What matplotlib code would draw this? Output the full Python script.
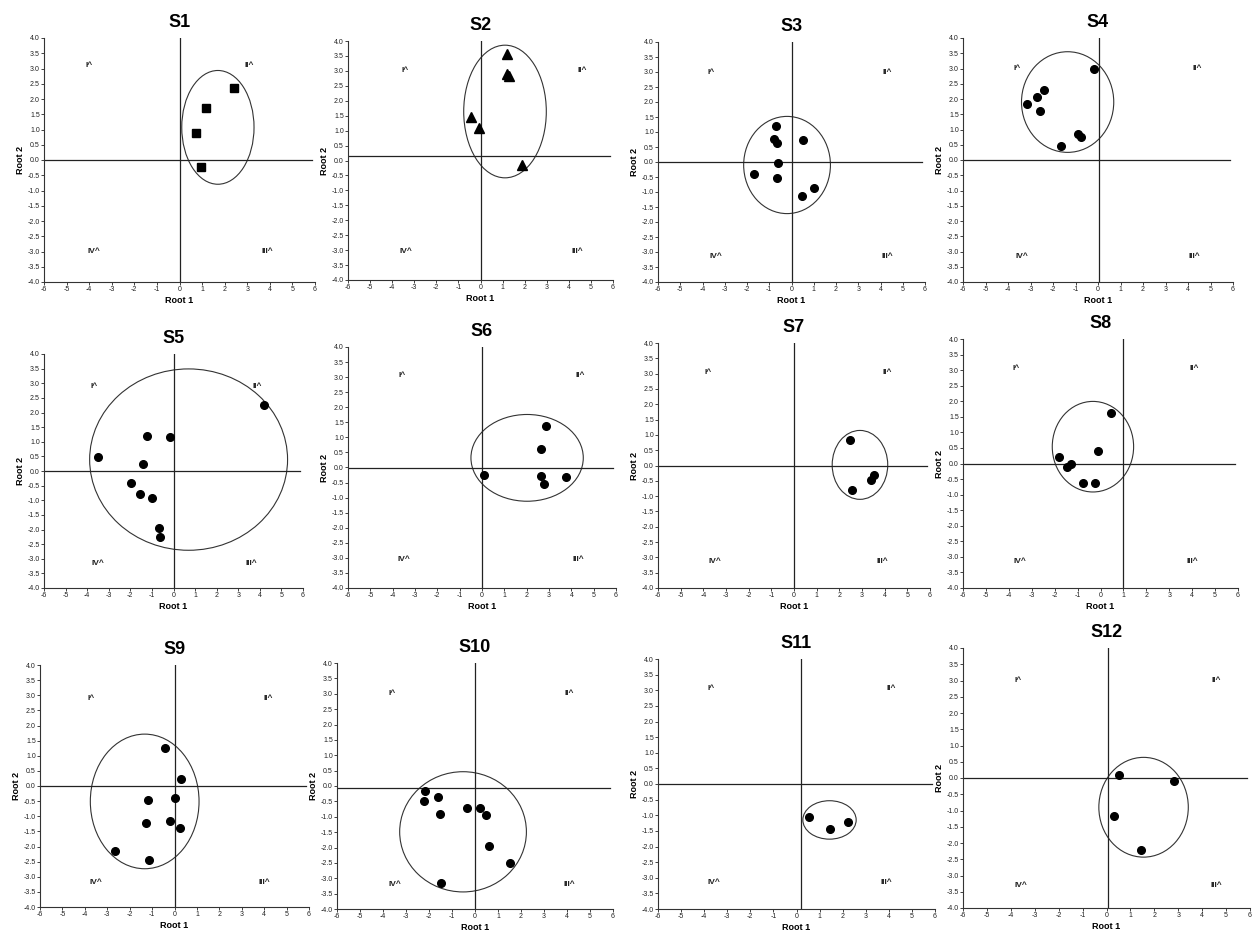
import matplotlib
matplotlib.use("Agg")
import matplotlib.pyplot as plt
from matplotlib.patches import Ellipse
import numpy as np

plt.rcParams['font.family'] = ['Liberation Sans', 'DejaVu Sans']

titles = ["S1", "S2", "S3", "S4", "S5", "S6", "S7", "S8", "S9", "S10", "S11", "S12"]

s1_x = [0.74, 1.18, 2.41, 0.93]
s1_y = [0.88, 1.70, 2.36, -0.22]
s2_x = [1.22, 1.20, 1.28, -0.42, -0.08, 1.88]
s2_y = [3.58, 2.90, 2.82, 1.44, 1.09, -0.14]
s3_x = [-0.68, -0.78, -0.63, 0.53, -0.60, -1.70, -0.63, 1.02, 0.45]
s3_y = [1.20, 0.76, 0.65, 0.74, -0.04, -0.41, -0.52, -0.88, -1.12]
s4_x = [-0.18, -2.41, -2.69, -3.15, -2.58, -0.88, -0.77, -1.66]
s4_y = [2.98, 2.30, 2.05, 1.83, 1.61, 0.85, 0.77, 0.47]
s5_x = [4.17, -1.25, -0.16, -3.52, -1.43, -1.99, -1.56, -1.01, -0.66, -0.63]
s5_y = [2.24, 1.18, 1.15, 0.49, 0.23, -0.42, -0.77, -0.94, -1.94, -2.25]
s6_x = [2.88, 2.63, 0.10, 2.63, 3.75, 2.78]
s6_y = [1.37, 0.62, -0.24, -0.27, -0.32, -0.54]
s7_x = [2.48, 2.58, 3.54, 3.39]
s7_y = [0.82, -0.79, -0.30, -0.47]
s8_x = [0.44, -0.11, -1.83, -1.45, -1.27, -0.76, -0.25]
s8_y = [1.62, 0.41, 0.21, -0.10, -0.02, -0.64, -0.64]
s9_x = [-0.41, 0.30, 0.00, -1.20, -1.27, -0.22, 0.25, -2.64, -1.13]
s9_y = [1.27, 0.24, -0.39, -0.45, -1.21, -1.17, -1.38, -2.15, -2.43]
s10_x = [-2.16, -2.23, -1.62, -1.51, -0.33, 0.20, 0.48, 0.59, 1.51, -1.48]
s10_y = [-0.16, -0.48, -0.37, -0.92, -0.72, -0.70, -0.94, -1.94, -2.49, -3.16]
s11_x = [0.56, 1.46, 2.25]
s11_y = [-1.06, -1.43, -1.23]
s12_x = [0.52, 2.82, 0.32, 1.44]
s12_y = [0.10, -0.10, -1.18, -2.20]

xs = [s1_x, s2_x, s3_x, s4_x, s5_x, s6_x, s7_x, s8_x, s9_x, s10_x, s11_x, s12_x]
ys = [s1_y, s2_y, s3_y, s4_y, s5_y, s6_y, s7_y, s8_y, s9_y, s10_y, s11_y, s12_y]

# ellipse centres and sizes (Root 1, Root 2 units)
ell_cx = [1.70, 1.11, -0.20, -1.35, 0.70, 2.02, 2.91, -0.33, -1.33, -0.52, 1.43, 1.55]
ell_cy = [1.07, 1.64, -0.10, 1.90, 0.39, 0.32, 0.02, 0.54, -0.51, -1.49, -1.15, -0.90]
ell_w = [3.20, 3.74, 3.90, 4.10, 9.17, 5.03, 2.45, 3.55, 4.85, 5.51, 2.31, 3.74]
ell_h = [3.73, 4.44, 3.24, 3.30, 6.20, 2.88, 2.25, 2.91, 4.45, 3.91, 1.23, 3.07]

# crosshair positions
cross_x = [0.0, 0.0, 0.0, 0.06, 0.0, 0.0, 0.0, 1.0, 0.0, 0.0, 0.2, 0.07]
cross_y = [0.0, 0.15, 0.0, 0.0, 0.0, -0.03, 0.0, 0.0, 0.0, -0.05, 0.0, 0.0]

quad_labels = ["I^", "II^", "IV^", "III^"]

markers = ['s', '^'] + ['o'] * 10
msizes = [6, 6.5] + [5.5] * 10

# pixel boxes (left, top, right, bottom)
boxes = [
    (44, 38, 315, 282), (348, 41, 613, 280), (658, 42, 925, 282), (963, 38, 1233, 282),
    (44, 354, 303, 588), (348, 347, 616, 588), (658, 343, 930, 588), (963, 339, 1238, 588),
    (40, 665, 309, 907), (337, 663, 613, 909), (658, 659, 935, 909), (963, 648, 1250, 908),
]

# quadrant label positions per panel: (I x, II x, IV x, III x, top y, bottom y)
qpos = [
    (-4.0, 3.1, -3.8, 3.9, 3.1, -3.0),
    (-3.4, 4.6, -3.4, 4.4, 3.0, -3.05),
    (-3.6, 4.3, -3.4, 4.3, 3.0, -3.15),
    (-3.6, 4.4, -3.4, 4.3, 3.0, -3.15),
    (-3.7, 3.9, -3.5, 3.6, 2.9, -3.15),
    (-3.6, 4.4, -3.5, 4.3, 3.05, -3.05),
    (-3.8, 4.1, -3.5, 3.9, 3.05, -3.15),
    (-3.7, 4.1, -3.5, 4.0, 3.05, -3.15),
    (-3.7, 4.2, -3.5, 4.0, 2.9, -3.2),
    (-3.6, 4.1, -3.5, 4.1, 3.0, -3.2),
    (-3.7, 4.1, -3.6, 3.9, 3.05, -3.15),
    (-3.7, 4.6, -3.6, 4.6, 3.0, -3.3),
]

W, H = 1253, 932
fig = plt.figure(figsize=(W / 100, H / 100), dpi=100)

xt = np.arange(-6, 7, 1)
yt = np.arange(-4.0, 4.01, 0.5)

for i in range(12):
    l, t, r, b = boxes[i]
    ax = fig.add_axes([l / W, 1 - b / H, (r - l) / W, (b - t) / H])
    ax.set_xlim(-6, 6)
    ax.set_ylim(-4, 4)
    for s in ['top', 'right']:
        ax.spines[s].set_visible(False)
    for s in ['left', 'bottom']:
        ax.spines[s].set_linewidth(0.8)
        ax.spines[s].set_color('#333333')
    ax.set_xticks(xt)
    ax.set_xticklabels([f"{v:d}" for v in xt])
    ax.set_yticks(yt)
    ax.set_yticklabels([f"{v:.1f}" for v in yt])
    ax.tick_params(axis='both', labelsize=5, length=2, width=0.6, pad=1, colors='#222222')
    ax.set_xlabel("Root 1", fontsize=6.5, fontweight='bold', labelpad=2)
    ax.set_ylabel("Root 2", fontsize=6.5, fontweight='bold', labelpad=2)
    ax.set_title(titles[i], fontsize=13, fontweight='bold', pad=8)

    ax.axvline(cross_x[i], ymin=0, ymax=1, color='#222222', lw=0.9)
    ax.axhline(cross_y[i], xmin=0, xmax=0.99, color='#222222', lw=0.9)

    ax.add_patch(Ellipse((ell_cx[i], ell_cy[i]), ell_w[i], ell_h[i],
                         fill=False, edgecolor='#333333', lw=0.8))
    ax.plot(xs[i], ys[i], linestyle='none', marker=markers[i],
            markersize=msizes[i], color='black')

    q = qpos[i]
    kw = dict(fontsize=6, fontweight='bold', ha='center', va='center', color='#222222')
    ax.text(q[0], q[4], quad_labels[0], **kw)
    ax.text(q[1], q[4], quad_labels[1], **kw)
    ax.text(q[2], q[5], quad_labels[2], **kw)
    ax.text(q[3], q[5], quad_labels[3], **kw)

fig.savefig("out.png", dpi=100)
